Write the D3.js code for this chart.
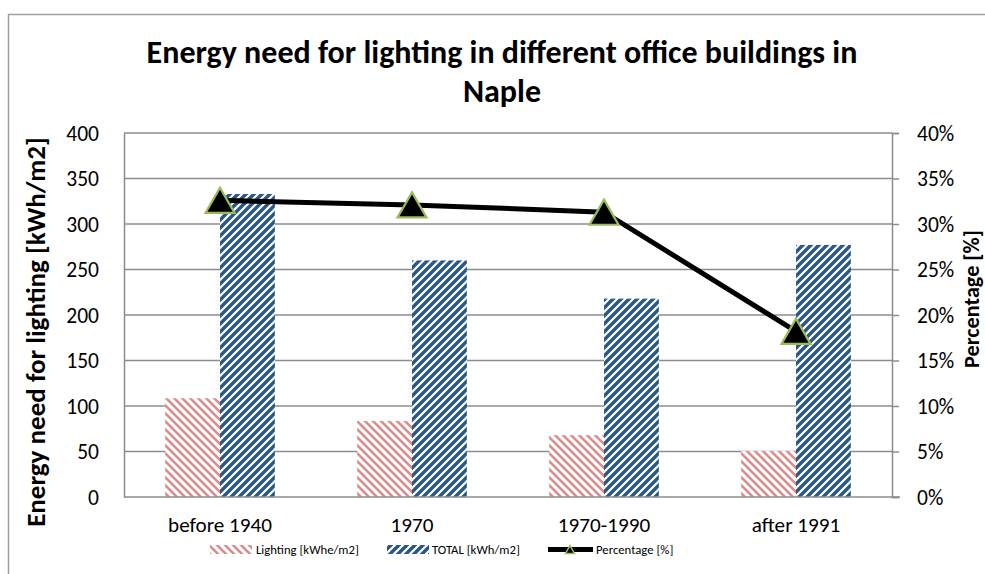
<!DOCTYPE html>
<html lang="en">
<head>
  <meta charset="UTF-8">
  <title>Energy need for lighting</title>
  <style>
    body { margin: 0; background: #fff; }
    svg { display: block; }
    text { font-family: Carlito, Lato, "Open Sans", sans-serif; fill: #000; }
  </style>
</head>
<body>
  <svg id="chart" width="985" height="574"></svg>
  <script src="https://cdnjs.cloudflare.com/ajax/libs/d3/7.8.5/d3.min.js"></script>
  <script>
    // data
    const categories = ['before 1940', '1970', '1970-1990', 'after 1991']
    const lighting = [108.5, 83.5, 68, 50.5]
    const total = [333, 260, 218, 277]
    const percentage = [0.326, 0.321, 0.313, 0.182]
    const leftTicks = [0, 50, 100, 150, 200, 250, 300, 350, 400]
    const rightTicks = [0, 0.05, 0.1, 0.15, 0.2, 0.25, 0.3, 0.35, 0.4]

    const svg = d3.select('#chart')
    const plot = { left: 124, right: 892, top: 133, bottom: 497 }

    // fit text to a width measured on the picture
    function fit(sel, width) {
      const w = sel.node().getComputedTextLength()
      const fs = parseFloat(sel.attr('font-size'))
      sel.attr('font-size', fs * width / w)
      return sel
    }

    const defs = svg.append('defs')
    const pinkPat = defs.append('pattern')
      .attr('id', 'pink').attr('patternUnits', 'userSpaceOnUse')
      .attr('width', 8).attr('height', 8)
    pinkPat.append('rect').attr('width', 8).attr('height', 8).attr('fill', '#fff')
    pinkPat.append('path')
      .attr('d', 'M0,0L8,8M-4,4L4,12M4,-4L12,4')
      .attr('stroke', '#d98c8b').attr('stroke-width', 2.6)

    const bluePat = defs.append('pattern')
      .attr('id', 'blue').attr('patternUnits', 'userSpaceOnUse')
      .attr('width', 8).attr('height', 8)
    bluePat.append('rect').attr('width', 8).attr('height', 8).attr('fill', '#fff')
    bluePat.append('path')
      .attr('d', 'M0,8L8,0M-4,4L4,-4M4,12L12,4')
      .attr('stroke', '#2a5688').attr('stroke-width', 3.4)

    // frame
    svg.append('rect')
      .attr('x', 8.5).attr('y', 14.5).attr('width', 1000).attr('height', 600)
      .attr('fill', 'none').attr('stroke', '#a0a0a0').attr('stroke-width', 1.5)

    const x = d3.scaleBand().domain(categories).range([plot.left, plot.right])
    const groupW = x.bandwidth() * 110 / 192.5
    const x1 = d3.scaleBand().domain(['lighting', 'total']).range([0, groupW])
    const y = d3.scaleLinear().domain([0, 400]).range([plot.bottom, plot.top])
    const y2 = d3.scaleLinear().domain([0, 0.4]).range([plot.bottom, plot.top])

    // gridlines
    svg.append('g')
      .selectAll('line').data(leftTicks.slice(1)).enter().append('line')
      .attr('x1', plot.left).attr('x2', plot.right)
      .attr('y1', d => y(d)).attr('y2', d => y(d))
      .attr('stroke', '#8c8c8c').attr('stroke-width', 1.5)

    // bars
    const series = [
      { key: 'lighting', values: lighting, fill: 'url(#pink)' },
      { key: 'total', values: total, fill: 'url(#blue)' }
    ]
    series.forEach(s => {
      svg.append('g').selectAll('rect').data(s.values).enter().append('rect')
        .attr('x', (d, i) => x(categories[i]) + (x.bandwidth() - groupW) / 2 + x1(s.key))
        .attr('width', x1.bandwidth())
        .attr('y', d => y(d))
        .attr('height', d => y(0) - y(d))
        .attr('fill', s.fill)
    })

    // axes lines
    const axisColor = '#8c8c8c'
    const leftAxis = svg.append('g').attr('transform', `translate(${plot.left},0)`)
      .call(d3.axisLeft(y).tickValues(leftTicks).tickSize(0).tickFormat(''))
    const rightAxis = svg.append('g').attr('transform', `translate(${plot.right},0)`)
      .call(d3.axisRight(y2).tickValues(rightTicks).tickSize(7).tickFormat(''))
    const bottomAxis = svg.append('g').attr('transform', `translate(0,${plot.bottom})`)
      .call(d3.axisBottom(x).tickSize(0).tickFormat(''))
    ;[leftAxis, rightAxis, bottomAxis].forEach(a => {
      a.selectAll('path, line').attr('stroke', axisColor).attr('stroke-width', 1.5)
    })
    bottomAxis.select('path').attr('d', `M${plot.left},0H${plot.right + 8}`)

    // tick labels
    svg.append('g').selectAll('text').data(leftTicks).enter().append('text')
      .attr('x', 99).attr('y', d => y(d) + 7.5)
      .attr('text-anchor', 'end').attr('font-size', 21.5)
      .text(d => d)
    svg.append('g').selectAll('text').data(rightTicks).enter().append('text')
      .attr('x', 917).attr('y', d => y2(d) + 7.5)
      .attr('font-size', 21.5)
      .text(d => d3.format('.0%')(d))
    const catLabels = svg.append('g').selectAll('text').data(categories).enter().append('text')
      .attr('x', d => x(d) + x.bandwidth() / 2).attr('y', 532)
      .attr('text-anchor', 'middle').attr('font-size', 17)
      .text(d => d)
    const firstCat = catLabels.filter((d, i) => i === 0)
    fit(firstCat, 104)
    catLabels.attr('font-size', firstCat.attr('font-size'))

    // percentage line
    const px = (d, i) => x(categories[i]) + x.bandwidth() / 2
    svg.append('path')
      .datum(percentage)
      .attr('d', d3.line().x(px).y(d => y2(d)))
      .attr('fill', 'none').attr('stroke', '#000').attr('stroke-width', 5)

    function tri(s) {
      const h = s * Math.sqrt(3) / 2
      return `M0,${-h / 2}L${s / 2},${h / 2}L${-s / 2},${h / 2}Z`
    }
    svg.append('g').selectAll('path').data(percentage).enter().append('path')
      .attr('transform', (d, i) => `translate(${px(d, i)},${y2(d)})`)
      .attr('d', tri(29))
      .attr('fill', '#000').attr('stroke', '#9bbb59').attr('stroke-width', 2.2)

    // titles
    const t1 = svg.append('text').attr('x', 502).attr('y', 63)
      .attr('text-anchor', 'middle').attr('font-weight', 'bold').attr('font-size', 26)
      .text('Energy need for lighting in different office buildings in')
    fit(t1, 711)
    svg.append('text').attr('x', 502).attr('y', 102)
      .attr('text-anchor', 'middle').attr('font-weight', 'bold').attr('font-size', t1.attr('font-size'))
      .text('Naple')

    const yt = svg.append('text')
      .attr('transform', 'translate(45,332) rotate(-90)')
      .attr('text-anchor', 'middle').attr('font-weight', 'bold').attr('font-size', 20)
      .text('Energy need for lighting [kWh/m2]')
    fit(yt, 390)
    const yt2 = svg.append('text')
      .attr('transform', 'translate(979,299) rotate(-90)')
      .attr('text-anchor', 'middle').attr('font-weight', 'bold').attr('font-size', 20)
      .text('Percentage [%]')
    fit(yt2, 138)

    // legend
    const lg = svg.append('g')
    lg.append('rect').attr('x', 210).attr('y', 545).attr('width', 42).attr('height', 9).attr('fill', 'url(#pink)')
    const lt1 = lg.append('text').attr('x', 256).attr('y', 554).attr('font-size', 13).text('Lighting [kWhe/m2]')
    fit(lt1, 103)
    lg.append('rect').attr('x', 387).attr('y', 545).attr('width', 42).attr('height', 9).attr('fill', 'url(#blue)')
    lg.append('text').attr('x', 432).attr('y', 554).attr('font-size', lt1.attr('font-size')).text('TOTAL [kWh/m2]')
    lg.append('line').attr('x1', 548).attr('x2', 593).attr('y1', 549.5).attr('y2', 549.5)
      .attr('stroke', '#000').attr('stroke-width', 5)
    lg.append('path').attr('transform', 'translate(570,549.5)').attr('d', tri(9))
      .attr('fill', '#000').attr('stroke', '#9bbb59').attr('stroke-width', 1.5)
    lg.append('text').attr('x', 596).attr('y', 554).attr('font-size', lt1.attr('font-size')).text('Percentage [%]')
  </script>
</body>
</html>
